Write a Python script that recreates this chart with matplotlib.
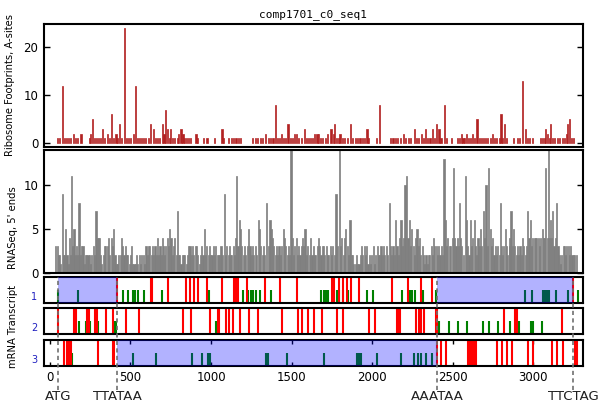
import matplotlib
matplotlib.use('Agg')
import matplotlib.pyplot as plt
from matplotlib.transforms import blended_transform_factory

title = 'comp1701_c0_seq1'

# Ribosome footprints (A-sites): position -> count
ribo_pos = [45, 58, 77, 90, 102, 115, 128, 145, 158, 172, 193, 244, 252, 263, 275, 288, 300, 314, 327, 340,
            355, 368, 380, 395, 410, 420, 430, 445, 462, 475, 488, 500, 517, 532, 545, 558, 570, 582, 595, 610,
            625, 641, 655, 668, 680, 697, 708, 718, 732, 743, 751, 762, 775, 790, 800, 814, 826, 838, 850, 862,
            875, 907, 918, 955, 975, 1020, 1068, 1080, 1110, 1125, 1140, 1155, 1170, 1185, 1260, 1275, 1290, 1305, 1320, 1340,
            1355, 1370, 1385, 1398, 1412, 1425, 1439, 1452, 1465, 1478, 1492, 1505, 1518, 1530, 1545, 1560, 1580, 1592, 1605, 1618,
            1632, 1645, 1658, 1665, 1680, 1695, 1710, 1725, 1745, 1758, 1768, 1780, 1790, 1801, 1815, 1830, 1845, 1868, 1880, 1895,
            1910, 1925, 1940, 1955, 1969, 1980, 2030, 2045, 2115, 2130, 2145, 2160, 2175, 2194, 2210, 2225, 2240, 2261, 2275, 2290,
            2308, 2320, 2333, 2345, 2360, 2377, 2388, 2401, 2416, 2428, 2449, 2460, 2495, 2530, 2542, 2553, 2565, 2575, 2588, 2600,
            2612, 2623, 2638, 2652, 2665, 2678, 2690, 2705, 2718, 2735, 2749, 2760, 2775, 2790, 2801, 2812, 2822, 2835, 2878, 2905,
            2918, 2936, 2954, 2965, 2980, 2995, 3045, 3060, 3070, 3079, 3090, 3100, 3110, 3120, 3135, 3150, 3165, 3180, 3195, 3205,
            3214, 3226, 3238, 3250]
ribo_val = [1, 1, 12, 1, 1, 1, 1, 2, 1, 1, 2, 1, 2, 5, 1, 1, 1, 1, 3, 1,
            2, 1, 6, 1, 2, 1, 4, 1, 24, 1, 1, 1, 2, 12, 1, 1, 1, 1, 1, 1,
            4, 3, 1, 1, 1, 4, 2, 7, 3, 1, 3, 1, 1, 1, 2, 3, 2, 1, 1, 1,
            1, 2, 1, 1, 1, 1, 3, 1, 1, 1, 1, 1, 1, 1, 1, 1, 1, 1, 1, 2,
            1, 1, 1, 8, 1, 1, 2, 1, 1, 4, 1, 1, 2, 2, 1, 1, 3, 1, 1, 1,
            1, 2, 2, 2, 1, 1, 1, 2, 3, 2, 4, 1, 1, 2, 1, 1, 1, 4, 1, 1,
            1, 1, 1, 1, 3, 1, 1, 8, 1, 1, 1, 1, 1, 2, 1, 1, 1, 3, 1, 1,
            2, 1, 3, 1, 1, 3, 1, 4, 3, 1, 8, 1, 1, 1, 1, 2, 1, 1, 2, 1,
            1, 2, 1, 5, 1, 1, 1, 1, 1, 1, 2, 1, 1, 1, 6, 1, 4, 1, 1, 1,
            1, 13, 3, 1, 1, 1, 1, 1, 1, 3, 2, 1, 4, 1, 1, 1, 1, 1, 1, 2,
            4, 5, 1, 1]

# RNA-Seq 5' ends: position -> count
rna_pos = [37, 45, 52, 60, 68, 77, 85, 92, 99, 106, 113, 120, 128, 135, 142, 149, 157, 166, 173, 180,
           188, 197, 205, 213, 220, 228, 236, 244, 252, 260, 270, 278, 286, 293, 300, 308, 315, 322, 330, 338,
           346, 356, 364, 372, 380, 388, 396, 404, 412, 420, 428, 436, 445, 452, 460, 468, 476, 484, 492, 500,
           507, 515, 522, 530, 538, 546, 555, 563, 571, 580, 588, 596, 604, 612, 620, 628, 636, 644, 652, 660,
           667, 675, 683, 690, 697, 705, 712, 720, 728, 736, 745, 752, 760, 768, 776, 784, 791, 798, 806, 814,
           822, 830, 838, 846, 854, 862, 870, 878, 886, 894, 902, 910, 918, 926, 934, 942, 950, 958, 966, 974,
           982, 990, 998, 1006, 1014, 1022, 1030, 1038, 1046, 1054, 1062, 1070, 1083, 1090, 1098, 1106, 1114, 1122, 1130, 1138,
           1146, 1153, 1160, 1168, 1176, 1184, 1192, 1200, 1208, 1216, 1225, 1234, 1242, 1250, 1258, 1266, 1274, 1282, 1294, 1302,
           1310, 1318, 1326, 1334, 1346, 1356, 1366, 1374, 1382, 1390, 1398, 1406, 1414, 1422, 1430, 1440, 1449, 1457, 1465, 1473,
           1481, 1489, 1497, 1505, 1513, 1521, 1529, 1537, 1545, 1553, 1561, 1569, 1577, 1584, 1592, 1600, 1610, 1619, 1627, 1635,
           1643, 1651, 1659, 1667, 1675, 1683, 1691, 1699, 1707, 1715, 1723, 1731, 1740, 1748, 1756, 1765, 1776, 1786, 1797, 1805,
           1813, 1821, 1829, 1837, 1845, 1855, 1863, 1871, 1879, 1887, 1895, 1903, 1911, 1919, 1927, 1935, 1943, 1951, 1959, 1967,
           1975, 1983, 1991, 1999, 2008, 2016, 2024, 2032, 2040, 2048, 2056, 2064, 2072, 2080, 2090, 2098, 2106, 2114, 2122, 2130,
           2138, 2147, 2155, 2163, 2171, 2180, 2188, 2196, 2205, 2215, 2223, 2231, 2239, 2247, 2255, 2263, 2271, 2279, 2287, 2295,
           2303, 2311, 2319, 2327, 2335, 2343, 2351, 2359, 2367, 2375, 2381, 2390, 2398, 2406, 2414, 2422, 2430, 2438, 2447, 2455,
           2463, 2471, 2479, 2487, 2497, 2505, 2513, 2521, 2529, 2536, 2542, 2550, 2558, 2566, 2578, 2586, 2594, 2602, 2610, 2618,
           2626, 2634, 2642, 2650, 2658, 2666, 2674, 2682, 2691, 2700, 2708, 2716, 2725, 2733, 2741, 2749, 2757, 2765, 2773, 2781,
           2789, 2795, 2803, 2811, 2819, 2827, 2835, 2843, 2851, 2857, 2863, 2871, 2879, 2887, 2895, 2903, 2911, 2919, 2927, 2935,
           2943, 2951, 2959, 2967, 2975, 2983, 2991, 2999, 3007, 3015, 3023, 3031, 3040, 3048, 3056, 3064, 3072, 3079, 3087, 3095,
           3103, 3110, 3117, 3122, 3130, 3138, 3147, 3155, 3163, 3171, 3179, 3187, 3195, 3203, 3210, 3218, 3226, 3234, 3242, 3250,
           3258, 3267]
rna_val = [3, 3, 2, 2, 1, 9, 2, 2, 5, 2, 1, 4, 2, 11, 3, 5, 2, 3, 2, 8,
           2, 3, 3, 1, 2, 2, 2, 2, 1, 2, 3, 2, 7, 4, 4, 4, 2, 1, 2, 3,
           3, 3, 4, 2, 4, 3, 5, 2, 1, 1, 2, 2, 4, 3, 2, 3, 2, 2, 1, 2,
           3, 1, 1, 1, 2, 1, 2, 1, 2, 2, 1, 3, 2, 3, 3, 2, 3, 2, 3, 2,
           4, 2, 3, 2, 4, 3, 2, 3, 4, 3, 5, 4, 2, 3, 4, 2, 7, 2, 2, 1,
           2, 2, 2, 1, 2, 3, 3, 2, 3, 2, 3, 3, 2, 1, 2, 3, 2, 5, 2, 3,
           2, 3, 2, 2, 3, 2, 3, 2, 2, 2, 3, 2, 9, 2, 3, 2, 3, 2, 2, 3,
           2, 4, 11, 3, 6, 5, 3, 2, 3, 2, 3, 5, 3, 2, 3, 2, 3, 2, 6, 5,
           3, 2, 3, 2, 8, 3, 6, 5, 4, 3, 2, 3, 2, 3, 2, 3, 5, 4, 3, 2,
           3, 2, 14, 4, 2, 3, 4, 2, 3, 2, 3, 4, 3, 5, 2, 3, 2, 4, 2, 3,
           2, 2, 3, 4, 3, 2, 3, 3, 2, 3, 2, 2, 3, 2, 3, 2, 9, 3, 14, 3,
           4, 2, 4, 5, 3, 2, 6, 2, 2, 1, 1, 2, 1, 1, 2, 3, 2, 3, 2, 3,
           1, 2, 1, 2, 3, 1, 2, 3, 2, 2, 3, 2, 3, 2, 3, 2, 8, 3, 2, 3,
           2, 6, 3, 2, 4, 6, 3, 4, 10, 11, 4, 6, 3, 5, 3, 2, 4, 5, 3, 4,
           2, 3, 2, 1, 2, 1, 2, 2, 3, 2, 4, 3, 3, 2, 3, 2, 3, 2, 13, 6,
           3, 4, 3, 3, 4, 12, 4, 3, 4, 3, 8, 4, 3, 2, 11, 6, 3, 2, 6, 3,
           4, 6, 3, 2, 4, 3, 5, 3, 7, 4, 10, 3, 12, 5, 3, 4, 2, 3, 2, 3,
           2, 8, 3, 2, 3, 5, 3, 2, 4, 3, 7, 3, 5, 3, 2, 3, 2, 3, 2, 4,
           3, 2, 3, 7, 4, 6, 3, 4, 4, 4, 4, 4, 3, 4, 5, 4, 4, 12, 4, 14,
           4, 6, 4, 7, 3, 4, 8, 3, 2, 1, 2, 3, 3, 2, 3, 3, 2, 3, 2, 2,
           2, 2]

# mRNA transcript: stop (red) and start (green) codons per frame
f1_stop = [414, 625, 635, 735, 845, 870, 896, 921, 977, 1066, 1144, 1152, 1160, 1168, 1226, 1335, 1428, 1532,
           1750, 1764, 1797, 1818, 1843, 1868, 1921, 2124, 2226, 2302, 2375, 3250]
f1_start = [52, 176, 451, 487, 513, 528, 549, 584, 696, 988, 1201, 1232, 1247, 1263, 1280, 1304, 1371,
            1681, 1702, 1714, 1728, 1781, 1797, 1822, 1849, 1967, 2008, 2186, 2236, 2251, 2268, 2315, 2398,
            2950, 2992, 3060, 3075, 3089, 3101, 3141, 3219, 3281]
f2_stop = [52, 148, 161, 228, 244, 279, 290, 348, 389, 472, 553, 824, 874, 994, 1041, 1052, 1093, 1109, 1139,
           1180, 1238, 1294, 1441, 1538, 1563, 1605, 1640, 1687, 1781, 1818, 1984, 2019, 2153, 2163, 2174,
           2273, 2290, 2306, 2323, 2396, 2404, 2820, 2888, 2899, 3178]
f2_start = [182, 222, 248, 300, 400, 410, 1031, 2418, 2480, 2535, 2592, 2688, 2725, 2785, 2857, 2915,
            2985, 3002, 3054]
f3_stop = [87, 104, 118, 130, 300, 389, 400, 2402, 2427, 2458, 2594, 2604, 2614, 2624, 2634, 2645, 2774,
           2809, 2840, 2868, 2967, 3002, 3120, 3147, 3188, 3261, 3273]
f3_start = [135, 518, 658, 884, 944, 983, 994, 1340, 1356, 1474, 1702, 1909, 1921, 1932, 2029, 2178,
            2263, 2284, 2304, 2333, 2371]
frame_orfs = [[(52, 414), (2404, 3250)], [], [(416, 2404)]]
frame_labels = ['1', '2', '3']

marker_pos = [50, 416, 2404, 3248]
marker_lab = ['ATG', 'TTATAA', 'AAATAA', 'TTCTAG']
xticks = [0, 500, 1000, 1500, 2000, 2500, 3000]
ribo_yticks = [0, 10, 20]
rna_yticks = [0, 5, 10]
xlim = (-37, 3310)

W, H = 599, 412
fig = plt.figure(figsize=(W / 100, H / 100), dpi=100)
plt.rcParams['font.family'] = ['DejaVu Sans']

L = 44 / W
Wd = 539 / W


def rect(top, bottom):
    return [L, 1 - bottom / H, Wd, (bottom - top) / H]


def style(ax, lw=1.5):
    for s in ax.spines.values():
        s.set_linewidth(lw)
        s.set_color('black')
    ax.tick_params(direction='in', length=4, width=1, labelsize=8.5,
                   left=True, right=True, top=False, bottom=False,
                   labelbottom=False, pad=4)
    ax.set_xlim(*xlim)


ax1 = fig.add_axes(rect(24, 147))
ax1.bar(ribo_pos, ribo_val, width=7, color='#b22222', edgecolor='#b22222', linewidth=0.5)
ax1.set_ylim(-0.8, 24.8)
ax1.set_yticks(ribo_yticks)
style(ax1)
ax1.set_title(title, fontsize=8, family='DejaVu Sans Mono', pad=5)

ax2 = fig.add_axes(rect(150, 272.5))
ax2.bar(rna_pos, rna_val, width=7, color='#7f7f7f', edgecolor='#7f7f7f', linewidth=0.5)
ax2.set_ylim(0, 14)
ax2.set_yticks(rna_yticks)
style(ax2)

stops = [f1_stop, f2_stop, f3_stop]
starts = [f1_start, f2_start, f3_start]
tracks = [(276.5, 302.5), (307.5, 333.5), (339.5, 365.5)]
taxes = []
for i, (t, b) in enumerate(tracks):
    ax = fig.add_axes(rect(t, b))
    ax.vlines(starts[i], 0, 0.5, color='#008000', linewidth=1.5, zorder=2)
    ax.vlines(stops[i], 0, 1, color='#ff0000', linewidth=1.5, zorder=2)
    for (a, e) in frame_orfs[i]:
        ax.axvspan(a, e, color='blue', alpha=0.3, linewidth=0, zorder=3)
    ax.set_ylim(0, 1)
    ax.set_yticks([])
    style(ax)
    ax.tick_params(left=False, right=False)
    ax.set_xticks(xticks)
    ax.text(-0.012, 0.2, frame_labels[i], transform=ax.transAxes, ha='right', va='center',
            color='#2020c0', fontsize=7)
    taxes.append(ax)

ax3 = taxes[-1]
ax3.tick_params(top=True, bottom=True, labelbottom=True, length=3, pad=4, labelsize=8.5)
ax3.set_xticklabels([str(v) for v in xticks])

trans = blended_transform_factory(ax3.transData, ax3.transAxes)
top_frac = (365.5 - 276.5) / 26
for p, lab in zip(marker_pos, marker_lab):
    ax3.plot([p, p], [-0.95, top_frac], transform=trans, color='#707070', linestyle='--',
             linewidth=1.2, clip_on=False, zorder=5, dashes=(2.5, 2))
    ax3.text(p, -1.2, lab, transform=trans, ha='center', va='center', fontsize=9.5, color='#202020')

fig.text(10 / W, 1 - 85 / H, 'Ribosome Footprints, A-sites', rotation=90, ha='center', va='center', fontsize=7.2)
fig.text(13 / W, 1 - 228 / H, "RNASeq, 5' ends", rotation=90, ha='center', va='center', fontsize=7.2)
fig.text(13 / W, 1 - 327 / H, 'mRNA Transcript', rotation=90, ha='center', va='center', fontsize=7.2)

fig.savefig('out.png', dpi=100)
